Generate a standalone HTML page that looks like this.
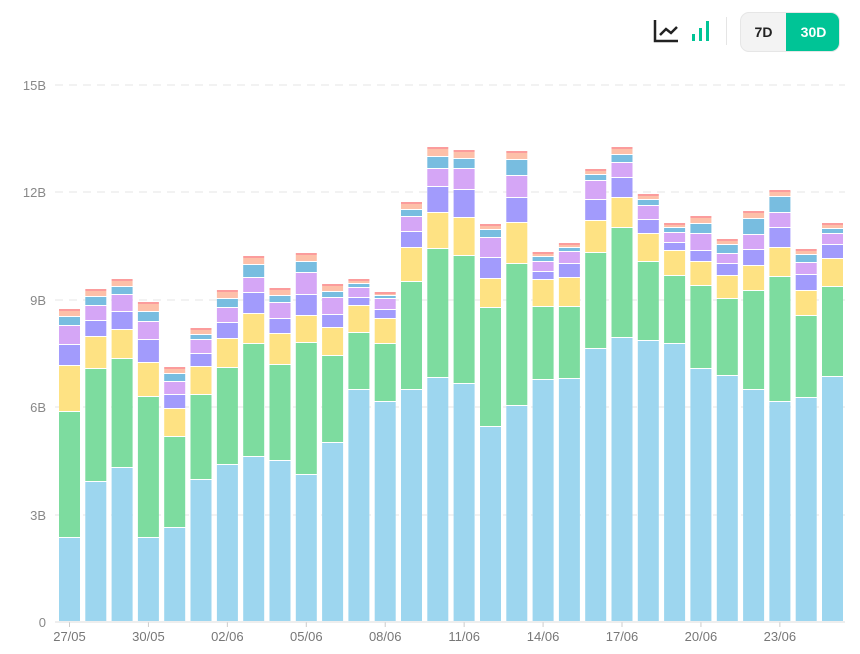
<!DOCTYPE html>
<html><head><meta charset="utf-8"><style>
body{margin:0;background:#fff;width:860px;height:654px;overflow:hidden;font-family:"Liberation Sans",sans-serif}
.btns{position:absolute;left:740px;top:12px;width:100px;height:40px;border-radius:9px;background:#f3f3f3;border:1px solid #e6e6e6;box-sizing:border-box;overflow:hidden}
.b7{position:absolute;left:0;top:0;width:45px;height:38px;line-height:38px;text-align:center;font-size:14px;font-weight:bold;color:#222}
.b30{position:absolute;left:45px;top:-1px;width:55px;height:40px;line-height:40px;text-align:center;font-size:14px;font-weight:bold;color:#fff;background:#00c496;border-radius:0 9px 9px 0}
</style></head><body>
<svg width="860" height="654" style="position:absolute;left:0;top:0" id="s"></svg>
<div class="btns"><div class="b7">7D</div><div class="b30">30D</div></div>
<script>
var s=document.getElementById('s'),h='';
h+='<path d="M655 20 V41 H678" stroke="#222" stroke-width="2.5" fill="none"/><path d="M660 35 L666 29 L671 33 L677 27" stroke="#222" stroke-width="2.5" fill="none"/>';
h+='<rect x="692" y="34" width="3" height="7" fill="#00c496"/><rect x="699" y="28" width="3" height="13" fill="#00c496"/><rect x="706" y="21" width="3" height="20" fill="#00c496"/>';
h+='<rect x="726" y="17" width="1" height="28" fill="#e5e5e5"/>';
var gy=[85,192,300,407,515],gl=['15B','12B','9B','6B','3B'];
for(var i=0;i<5;i++){h+='<line x1="55" x2="845" y1="'+gy[i]+'" y2="'+gy[i]+'" stroke="#e6e6e6" stroke-dasharray="8,6"/>';h+='<text x="46" y="'+(gy[i]+5)+'" text-anchor="end" font-size="13" fill="#888">'+gl[i]+'</text>';}
h+='<text x="46" y="627" text-anchor="end" font-size="13" fill="#888">0</text>';
var d=[[538,412,366,345,326,317,311],[482,369,337,321,306,297,291],[468,359,330,312,295,287,281],[538,397,363,340,322,312,304],[528,437,409,395,382,374,369],[480,395,367,354,340,335,330],[465,368,339,323,308,299,292],[457,344,314,293,278,265,258],[461,365,334,319,303,296,290],[475,343,316,295,273,262,255],[443,356,328,315,298,292,286],[390,333,306,298,288,284,281],[402,344,319,310,299,296,294],[390,282,248,232,217,210,204],[378,249,213,187,169,157,149],[384,256,218,190,169,159,152],[427,308,279,258,238,230,226],[406,264,223,198,176,160,153],[380,307,280,272,262,257,254],[379,307,278,264,252,248,245],[349,253,221,200,181,175,171],[338,228,198,178,163,155,149],[341,262,234,220,206,200,196],[344,276,251,243,233,228,225],[369,286,262,251,234,224,218],[376,299,276,264,254,245,241],[390,291,266,250,235,219,213],[402,277,248,228,213,197,192],[398,316,291,275,263,255,251],[377,287,259,245,234,229,225]];
var c=['#9dd6ef','#7ddc9f','#fee283','#a29bfc','#d5a6f6','#78bde0','#fdc0a9'];
var labs=['27/05','30/05','02/06','05/06','08/06','11/06','14/06','17/06','20/06','23/06'];
for(var i=0;i<30;i++){var x=59+i*26.31,prev=622;
for(var k=0;k<7;k++){var t=d[i][k];h+='<rect x="'+x.toFixed(1)+'" y="'+t+'" width="21" height="'+(prev-t-1)+'" fill="'+c[k]+'"/>';prev=t;}
h+='<rect x="'+x.toFixed(1)+'" y="'+(prev-2)+'" width="21" height="2" fill="#fb9c9c"/>';
if(i%3==0){var cx=x+10.5;h+='<line x1="'+cx+'" x2="'+cx+'" y1="622" y2="627" stroke="#ccc"/><text x="'+cx+'" y="641" text-anchor="middle" font-size="13" fill="#777">'+labs[i/3]+'</text>';}}
h+='<line x1="55" x2="845" y1="622" y2="622" stroke="#ddd"/>';
s.innerHTML=h;
</script>
</body></html>
